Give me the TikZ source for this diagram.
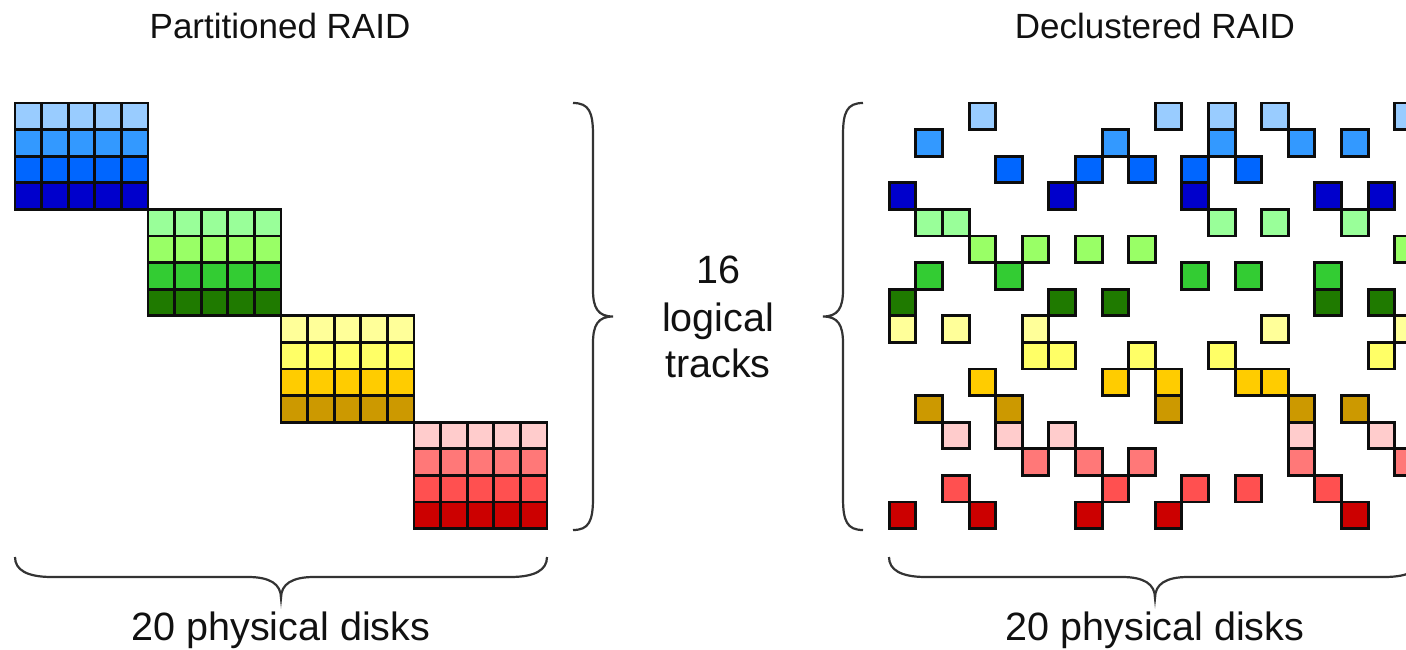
\documentclass[tikz,border=0pt]{standalone}
\usepackage{fontspec}
\setmainfont{Liberation Sans}
\definecolor{c0}{HTML}{99CCFF}
\definecolor{c1}{HTML}{3399FF}
\definecolor{c2}{HTML}{0066FF}
\definecolor{c3}{HTML}{0000CC}
\definecolor{c4}{HTML}{99FF99}
\definecolor{c5}{HTML}{99FF66}
\definecolor{c6}{HTML}{33CC33}
\definecolor{c7}{HTML}{1F7A00}
\definecolor{c8}{HTML}{FFFF99}
\definecolor{c9}{HTML}{FFFF66}
\definecolor{c10}{HTML}{FFCC00}
\definecolor{c11}{HTML}{CC9900}
\definecolor{c12}{HTML}{FFCCCC}
\definecolor{c13}{HTML}{FF7878}
\definecolor{c14}{HTML}{FF5050}
\definecolor{c15}{HTML}{CC0000}
\definecolor{ink}{HTML}{111111}
\begin{document}
\begin{tikzpicture}[x=1pt,y=-1pt,
  cell/.style={draw=black!95, line width=2.9pt},
  bracepath/.style={draw=black!80, line width=2.2pt},
  title/.style={font=\fontsize{35}{42}\selectfont, text=ink, anchor=base, inner sep=0pt},
  label/.style={font=\fontsize{39.5}{47}\selectfont, text=ink, anchor=base, inner sep=0pt}]
\useasboundingbox (0,0) rectangle (1406,649);
\clip (0,0) rectangle (1406,649);
% Partitioned RAID grid
\foreach \r in {0,...,15}{
  \pgfmathtruncatemacro\b{int(\r/4)}
  \foreach \k in {0,...,4}{
    \pgfmathsetmacro\cx{15+(5*\b+\k)*26.6}
    \pgfmathsetmacro\cy{103+\r*26.6}
    \filldraw[cell, fill=c\r] (\cx,\cy) rectangle ++(26.6,26.6);
  }
}
% Declustered RAID grid
\foreach \r/\cols in {0/{3,10,12,14,19}, 1/{1,8,12,15,17}, 2/{4,7,9,11,13}, 3/{0,6,11,16,18},
  4/{1,2,12,14,17}, 5/{3,5,7,9,19}, 6/{1,4,11,13,16}, 7/{0,6,8,16,18},
  8/{0,2,5,14,19}, 9/{5,6,9,12,18}, 10/{3,8,10,13,14}, 11/{1,4,10,15,17},
  12/{2,4,6,15,18}, 13/{5,7,9,15,19}, 14/{2,8,11,13,16}, 15/{0,3,7,10,17}}{
  \foreach \c in \cols {
    \pgfmathsetmacro\cx{889.3+\c*26.6}
    \pgfmathsetmacro\cy{103+\r*26.6}
    \filldraw[cell, fill=c\r] (\cx,\cy) rectangle ++(26.6,26.6);
  }
}
% braces
\draw[bracepath] (573,103) .. controls (589,103) and (593,112) .. (593,135) -- (593,290)
  .. controls (593,308) and (598,316.5) .. (613,316.5)
  .. controls (598,316.5) and (593,325) .. (593,343) -- (593,498)
  .. controls (593,521) and (589,530) .. (573,530);
\draw[bracepath] (863,103) .. controls (847,103) and (843,112) .. (843,135) -- (843,290)
  .. controls (843,308) and (838,316.5) .. (823,316.5)
  .. controls (838,316.5) and (843,325) .. (843,343) -- (843,498)
  .. controls (843,521) and (847,530) .. (863,530);
\draw[bracepath] (15,557) .. controls (15,570) and (27,577) .. (52,577) -- (248,577)
  .. controls (270,577) and (281,584) .. (281,598)
  .. controls (281,584) and (292,577) .. (314,577) -- (510,577)
  .. controls (535,577) and (547,570) .. (547,557);
\draw[bracepath] (889,557) .. controls (889,570) and (901,577) .. (926,577) -- (1122,577)
  .. controls (1144,577) and (1155,584) .. (1155,598)
  .. controls (1155,584) and (1166,577) .. (1188,577) -- (1384,577)
  .. controls (1409,577) and (1421,570) .. (1421,557);
% texts
\node[title] (tpart) at (280,38) {Partitioned RAID};
\node[title] (tdecl) at (1155,38) {Declustered RAID};
\node[label] (n16) at (718,283) {16};
\node[label] (nlog) at (718,331) {logical};
\node[label] (ntr) at (718,377) {tracks};
\node[label] (dleft) at (281,640) {20 physical disks};
\node[label] (dright) at (1155,640) {20 physical disks};
\end{tikzpicture}
\end{document}
